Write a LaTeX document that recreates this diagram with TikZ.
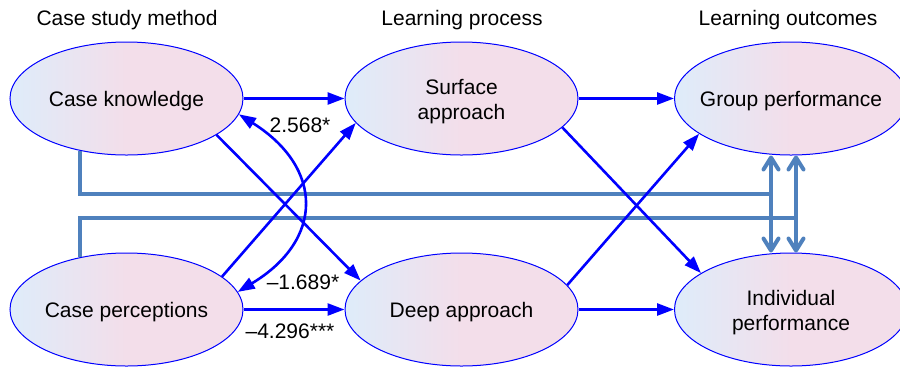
\documentclass[tikz,border=0pt]{standalone}
\usepackage{fontspec}
\setmainfont{Liberation Sans}
\usetikzlibrary{shapes.geometric,arrows.meta}
\definecolor{lb}{RGB}{222,236,250}
\definecolor{pk}{RGB}{243,222,234}
\definecolor{steel}{RGB}{79,129,189}
\begin{document}
\begin{tikzpicture}[x=1pt,y=-1pt,
  every node/.style={font=\fontsize{21}{25}\selectfont, text=black, align=center},
  ell/.style={ellipse, draw=blue, line width=1pt, left color=lb, right color=pk, middle color=pk,
    minimum width=233pt, minimum height=113pt, inner sep=0pt},
  intext/.style={yshift=-3pt},
  blarrow/.style={draw=blue, line width=2.6pt, -{Triangle[length=17pt,width=12pt]}},
  bldouble/.style={draw=blue, line width=2.6pt, {Triangle[length=17pt,width=12pt]}-{Triangle[length=17pt,width=12pt]}},
  steelline/.style={draw=steel, line width=4pt},
  steelarrow/.style={steelline, line cap=round, line join=round,
    {Straight Barb[length=12pt,width=15pt,line cap=round,line join=round]}-{Straight Barb[length=12pt,width=15pt,line cap=round,line join=round]}},
]
\useasboundingbox (0,0) rectangle (900,368);

% headers
\node (h1) at (127,20) {Case study method};
\node (h2) at (462,20) {Learning process};
\node (h3) at (788,20) {Learning outcomes};

% ellipses
\node[ell] (ck) at (126.5,98.5) {};
\node[ell] (cp) at (126.5,309.5) {};
\node[ell] (sa) at (461.5,98.5) {};
\node[ell] (da) at (461.5,309.5) {};
\node[ell] (gp) at (791,98.5) {};
\node[ell] (ip) at (791,309.5) {};

\node[intext] (tck) at (ck) {Case knowledge};
\node[intext] (tcp) at (cp) {Case perceptions};
\node[intext] (tsa) at (sa) {Surface\\approach};
\node[intext] (tda) at (da) {Deep approach};
\node[intext] (tgp) at (gp) {Group performance};
\node[intext] (tip) at (ip) {Individual\\performance};

% steel connectors
\coordinate (j1) at (771,194);
\coordinate (j2) at (796,218);
\draw[steelline] (ck.-132) |- (j1);
\draw[steelline] (cp.132) |- (j2);
\draw[steelarrow] (j1 |- gp.south) -- (j1 |- ip.north);
\draw[steelarrow] (j2 |- gp.south) -- (j2 |- ip.north);

% blue arrows
\draw[blarrow] (ck.east) -- (sa.west);
\draw[blarrow] (sa.east) -- (gp.west);
\draw[blarrow] (cp.east) -- (da.west);
\draw[blarrow] (da.east) -- (ip.west);
\draw[blarrow] (ck.-22) -- (da.164);
\draw[blarrow] (cp.19) -- (sa.-167);
\draw[blarrow] (sa.-16) -- (ip.158);
\draw[blarrow] (da.13) -- (gp.-159);
\draw[bldouble] (ck.-8) .. controls (324,168) and (324,240) .. (cp.9);

% labels
\node (l1) at (300,125) {2.568*};
\node (l2) at (303,282) {–1.689*};
\node (l3) at (290,331) {–4.296***};
\end{tikzpicture}
\end{document}
